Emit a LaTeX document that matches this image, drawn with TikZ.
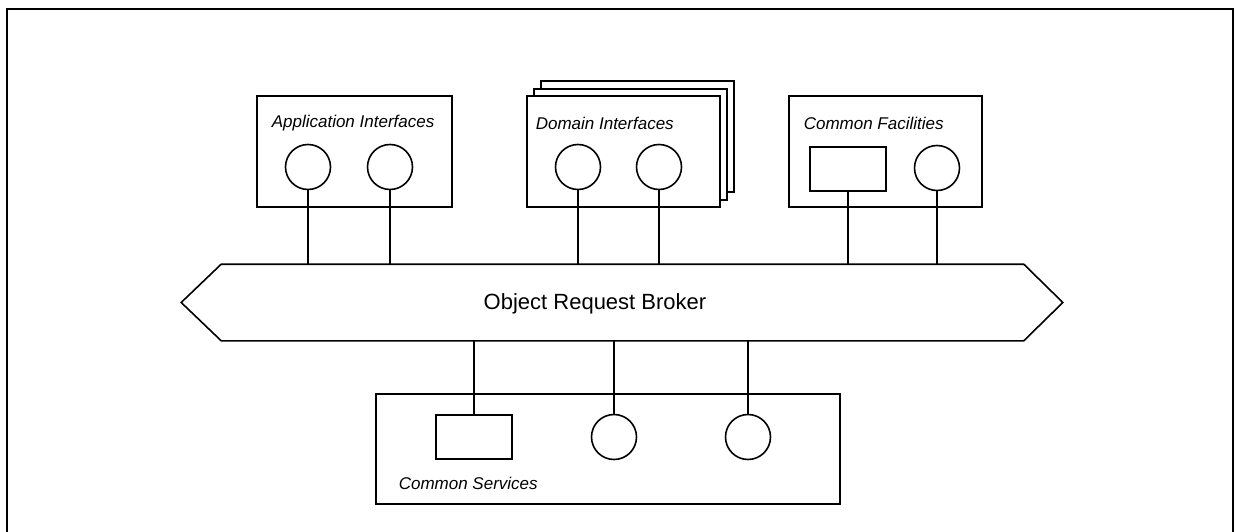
\documentclass[tikz,border=0pt]{standalone}
\usepackage{fontspec}
\setmainfont{Liberation Sans}
\usetikzlibrary{calc}
\begin{document}
\begin{tikzpicture}[x=1pt,y=-1pt,line width=1.6pt,
  box/.style={draw,fill=white,inner sep=0pt,anchor=north west},
  circ/.style={draw,circle,inner sep=0pt,minimum size=45pt},
  port/.style={draw,rectangle,inner sep=0pt,minimum width=76pt,minimum height=44pt},
  lbl/.style={anchor=west,inner sep=0pt,font=\fontsize{17}{20}\selectfont\itshape},
  link/.style={line width=1.6pt}]
\useasboundingbox (0,0) rectangle (1237,532);
% outer frame
\draw[line width=2.4pt] (7,532) -- (7,9) -- (1233,9) -- (1233,532);

% Application Interfaces
\node[box,minimum width=195pt,minimum height=111pt] (app) at (256,95) {};
\node[lbl] (applbl) at (271,123) {Application Interfaces};
\node[circ] (a1) at (308,167) {};
\node[circ] (a2) at (390,167) {};

% Domain Interfaces (stacked)
\node[box,minimum width=193pt,minimum height=111pt] (dom3) at (540,80) {};
\node[box,minimum width=193pt,minimum height=111pt] (dom2) at (533,88) {};
\node[box,minimum width=193pt,minimum height=111pt] (dom) at (526,95) {};
\node[lbl] (domlbl) at (535,123) {Domain Interfaces};
\node[circ] (d1) at (578,167) {};
\node[circ] (d2) at (659,167) {};

% Common Facilities
\node[box,minimum width=193pt,minimum height=111pt] (fac) at (788,95) {};
\node[lbl] (faclbl) at (803,123) {Common Facilities};
\node[port] (f1) at (848,169) {};
\node[circ] (f2) at (937,168) {};

% Object Request Broker
\node[inner sep=0pt,minimum width=801pt,minimum height=75pt] (orb) at (622.5,302.5) {};
\draw (orb.north west) -- (orb.north east) -- ($(orb.east)+(39,0)$) -- (orb.south east)
  -- (orb.south west) -- ($(orb.west)+(-40,0)$) -- cycle;
\node[inner sep=0pt,font=\fontsize{22}{26}\selectfont] (orblbl) at (595,304) {Object Request Broker};

% Common Services
\node[box,minimum width=464pt,minimum height=110pt] (srv) at (375,393) {};
\node[lbl] (srvlbl) at (398,483) {Common Services};
\node[port] (s1) at (474,437) {};
\node[circ] (s2) at (614,437) {};
\node[circ] (s3) at (748,437) {};

% connectors
\foreach \n in {a1,a2,d1,d2,f1,f2}
  \draw[link] (\n.south) -- (\n.south |- orb.north);
\foreach \n in {s1,s2,s3}
  \draw[link] (\n.north) -- (\n.north |- orb.south);
\end{tikzpicture}
\end{document}
